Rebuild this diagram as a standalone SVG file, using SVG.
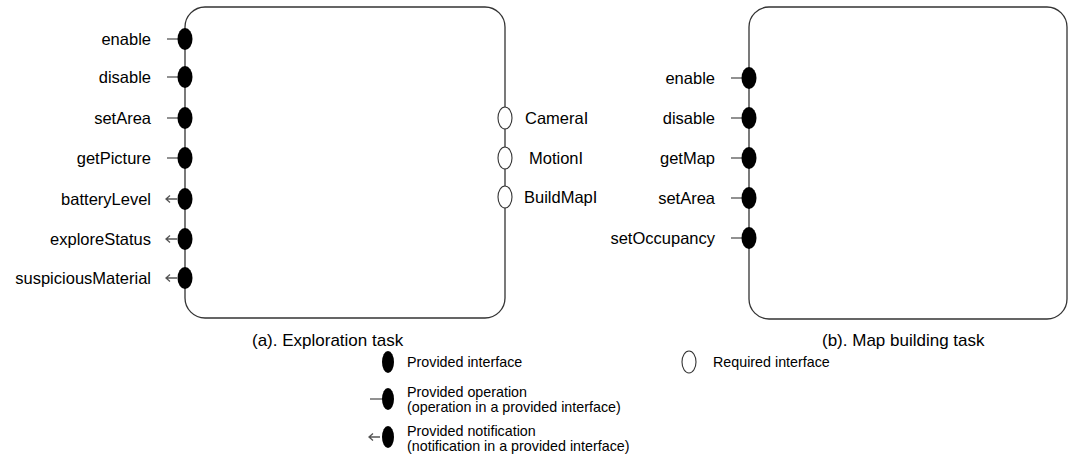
<svg xmlns="http://www.w3.org/2000/svg" width="1068" height="459" viewBox="0 0 1068 459">
  <style>
    .box { fill: none; stroke: #333; stroke-width: 1.3; }
    .prov { fill: #000; }
    .req { fill: #fff; stroke: #333; stroke-width: 1.1; }
    .stub { fill: none; stroke: #555; stroke-width: 1.3; }
    .lbl { font-family: "Liberation Sans", Arial, sans-serif; font-size: 16.5px; fill: #000; }
    .end { text-anchor: end; }
    .cap { font-family: "Liberation Sans", Arial, sans-serif; font-size: 17px; fill: #000; }
    .leg { font-family: "Liberation Sans", Arial, sans-serif; font-size: 14.3px; fill: #000; }
  </style>
  <defs>
    <!-- operation stub: plain line left of the port -->
    <path id="op" class="stub" d="M-18,0 H-5"/>
    <!-- notification stub: line with a small open arrowhead pointing outward -->
    <path id="nt" class="stub" d="M-8,0 H-19 M-15,-3.5 L-19,0 L-15,3.5"/>
  </defs>

  <!-- task components -->
  <g id="exploration-task">
    <rect class="box" x="185" y="7" width="320" height="311" rx="20" ry="20"/>
    <text class="cap" x="252" y="346">(a). Exploration task</text>
  </g>
  <g id="map-building-task">
    <rect class="box" x="749" y="7" width="318" height="312" rx="20" ry="20"/>
    <text class="cap" x="822" y="346">(b). Map building task</text>
  </g>

  <!-- stubs attached to ports -->
  <g id="connectors">
    <use href="#op" x="185" y="39"/>
    <use href="#op" x="185" y="77"/>
    <use href="#op" x="185" y="118"/>
    <use href="#op" x="185" y="158"/>
    <use href="#nt" x="185" y="199"/>
    <use href="#nt" x="185" y="239"/>
    <use href="#nt" x="185" y="278"/>
    <use href="#op" x="749" y="78"/>
    <use href="#op" x="749" y="118"/>
    <use href="#op" x="749" y="158"/>
    <use href="#op" x="749" y="198"/>
    <use href="#op" x="749" y="238"/>
    <use href="#op" x="388" y="399"/>
    <use href="#nt" x="388" y="437"/>
  </g>

  <!-- exploration task: provided ports -->
  <g id="a-enable"><ellipse class="prov" cx="185" cy="39" rx="7.5" ry="11"/><text class="lbl end" x="151" y="45">enable</text></g>
  <g id="a-disable"><ellipse class="prov" cx="185" cy="77" rx="7.5" ry="11"/><text class="lbl end" x="151" y="83">disable</text></g>
  <g id="a-setArea"><ellipse class="prov" cx="185" cy="118" rx="7.5" ry="11"/><text class="lbl end" x="151" y="124">setArea</text></g>
  <g id="a-getPicture"><ellipse class="prov" cx="185" cy="158" rx="7.5" ry="11"/><text class="lbl end" x="151" y="164">getPicture</text></g>
  <g id="a-batteryLevel"><ellipse class="prov" cx="185" cy="199" rx="7.5" ry="11"/><text class="lbl end" x="151" y="205">batteryLevel</text></g>
  <g id="a-exploreStatus"><ellipse class="prov" cx="185" cy="239" rx="7.5" ry="11"/><text class="lbl end" x="151" y="245">exploreStatus</text></g>
  <g id="a-suspiciousMaterial"><ellipse class="prov" cx="185" cy="278" rx="7.5" ry="11"/><text class="lbl end" x="151" y="284">suspiciousMaterial</text></g>

  <!-- exploration task: required ports -->
  <g id="a-CameraI"><ellipse class="req" cx="505" cy="118" rx="7" ry="11"/><text class="lbl" x="525" y="124">CameraI</text></g>
  <g id="a-MotionI"><ellipse class="req" cx="505" cy="158" rx="7" ry="11"/><text class="lbl" x="529" y="164">MotionI</text></g>
  <g id="a-BuildMapI"><ellipse class="req" cx="505" cy="197" rx="7" ry="11"/><text class="lbl" x="524" y="203">BuildMapI</text></g>

  <!-- map building task: provided ports -->
  <g id="b-enable"><ellipse class="prov" cx="749" cy="78" rx="7.5" ry="11"/><text class="lbl end" x="715" y="84">enable</text></g>
  <g id="b-disable"><ellipse class="prov" cx="749" cy="118" rx="7.5" ry="11"/><text class="lbl end" x="715" y="124">disable</text></g>
  <g id="b-getMap"><ellipse class="prov" cx="749" cy="158" rx="7.5" ry="11"/><text class="lbl end" x="715" y="164">getMap</text></g>
  <g id="b-setArea"><ellipse class="prov" cx="749" cy="198" rx="7.5" ry="11"/><text class="lbl end" x="715" y="204">setArea</text></g>
  <g id="b-setOccupancy"><ellipse class="prov" cx="749" cy="238" rx="7.5" ry="11"/><text class="lbl end" x="715" y="244">setOccupancy</text></g>

  <!-- legend -->
  <g id="legend-provided-interface"><ellipse class="prov" cx="388" cy="362" rx="6" ry="11"/><text class="leg" x="407" y="367">Provided interface</text></g>
  <g id="legend-provided-operation"><ellipse class="prov" cx="388" cy="399" rx="6" ry="11"/><text class="leg" x="407" y="397">Provided operation</text><text class="leg" x="407" y="412">(operation in a provided interface)</text></g>
  <g id="legend-provided-notification"><ellipse class="prov" cx="388" cy="437" rx="6" ry="11"/><text class="leg" x="407" y="436">Provided notification</text><text class="leg" x="407" y="451">(notification in a provided interface)</text></g>
  <g id="legend-required-interface"><ellipse class="req" cx="689" cy="362" rx="7" ry="11"/><text class="leg" x="713" y="367">Required interface</text></g>
</svg>
